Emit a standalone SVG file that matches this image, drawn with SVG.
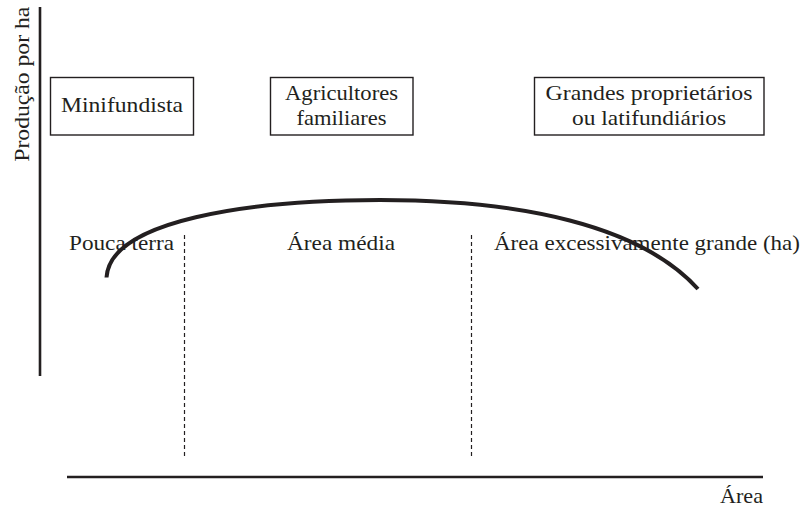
<svg xmlns="http://www.w3.org/2000/svg" width="803" height="509" viewBox="0 0 803 509">
<style>
text{font-family:"Liberation Serif","Times New Roman",serif;font-size:21px;fill:#231f20}
.box{fill:none;stroke:#231f20;stroke-width:1.4}
.axis{stroke:#231f20;stroke-width:2.6;fill:none}
.dash{stroke:#231f20;stroke-width:1.2;stroke-dasharray:4 3;fill:none}
.curve{stroke:#231f20;stroke-width:4;fill:none;stroke-linecap:butt}
.c{text-anchor:middle}
</style>
<rect width="803" height="509" fill="#fff"/>
<g id="axes">
<line class="axis" x1="40" y1="7" x2="40" y2="376"/>
<line class="axis" x1="67" y1="477" x2="763" y2="477"/>
<text id="y-label" transform="translate(28.5,161.7) rotate(-90)" textLength="155" lengthAdjust="spacingAndGlyphs">Produção por ha</text>
<text id="x-label" x="720" y="503" textLength="43" lengthAdjust="spacingAndGlyphs">Área</text>
</g>
<g id="node-minifundista">
<rect class="box" x="50.5" y="77.5" width="143" height="57.5"/>
<text class="c" x="122" y="112" textLength="122" lengthAdjust="spacingAndGlyphs">Minifundista</text>
</g>
<g id="node-agricultores">
<rect class="box" x="270.5" y="77.5" width="142.5" height="57.5"/>
<text class="c" x="341.5" y="100" textLength="113" lengthAdjust="spacingAndGlyphs">Agricultores</text>
<text class="c" x="341.5" y="125" textLength="90" lengthAdjust="spacingAndGlyphs">familiares</text>
</g>
<g id="node-grandes">
<rect class="box" x="534.5" y="77.5" width="229.5" height="57.5"/>
<text class="c" x="649" y="100" textLength="207" lengthAdjust="spacingAndGlyphs">Grandes proprietários</text>
<text class="c" x="649" y="125" textLength="154" lengthAdjust="spacingAndGlyphs">ou latifundiários</text>
</g>
<g id="zone-labels">
<text x="69" y="250" textLength="105" lengthAdjust="spacingAndGlyphs">Pouca terra</text>
<text x="287" y="250" textLength="108" lengthAdjust="spacingAndGlyphs">Área média</text>
<text x="494" y="250" textLength="306" lengthAdjust="spacingAndGlyphs">Área excessivamente grande (ha)</text>
</g>
<g id="connectors">
<line class="dash" x1="184.5" y1="235" x2="184.5" y2="457"/>
<line class="dash" x1="471.5" y1="235" x2="471.5" y2="457"/>
<path class="curve" d="M106.5,277.5 C110,220 250,200 380,200 C520,200 640,225 698,289"/>
</g>
</svg>
